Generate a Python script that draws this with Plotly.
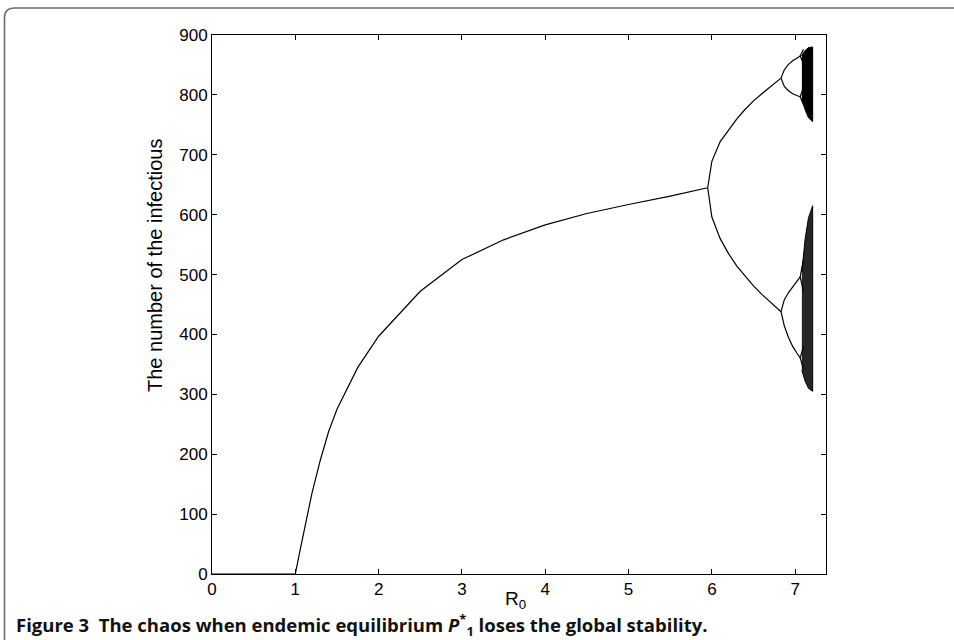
import plotly.graph_objects as go

# ---- data ----
r_eq = [0.0, 0.5, 1.0, 1.05, 1.1, 1.2, 1.3, 1.4, 1.5, 1.75, 2.0, 2.5, 3.0, 3.5, 4.0, 4.5, 5.0, 5.5, 5.95]
i_eq = [0, 0, 0, 35, 70, 135, 190, 238, 275, 345, 397, 472, 525, 558, 583, 602, 617, 631, 645]

r_p2 = [5.95, 6.0, 6.1, 6.2, 6.3, 6.4, 6.5, 6.6, 6.7, 6.83]
p2_up = [645, 689, 722, 742, 760, 776, 790, 802, 814, 828]
p2_low = [645, 596, 560, 535, 514, 497, 481, 467, 454, 438]

r_p4 = [6.83, 6.87, 6.92, 6.97, 7.02, 7.06]
p4_a = [828, 842, 851, 857, 861, 865]
p4_b = [828, 814, 807, 802, 799, 797]
p4_c = [438, 458, 470, 480, 488, 496]
p4_d = [438, 414, 395, 380, 369, 361]

r_p8 = [7.06, 7.08, 7.10]
p8_a1 = [865, 872, 876]
p8_a2 = [865, 858, 852]
p8_b1 = [797, 806, 812]
p8_b2 = [797, 790, 784]
p8_c1 = [496, 512, 525]
p8_c2 = [496, 482, 472]
p8_d1 = [361, 372, 380]
p8_d2 = [361, 350, 342]

r_chaos = [7.08, 7.12, 7.16, 7.21]
up_hi = [866, 874, 879, 880]
up_lo = [792, 775, 762, 755]
low_hi = [505, 560, 595, 615]
low_lo = [340, 322, 310, 305]

x_ticks = [0, 1, 2, 3, 4, 5, 6, 7]
y_ticks = [0, 100, 200, 300, 400, 500, 600, 700, 800, 900]

fig = go.Figure()

line_style = dict(color="black", width=1.2)

def add_line(x, y):
    fig.add_trace(go.Scatter(x=x, y=y, mode="lines", line=line_style,
                             hoverinfo="skip", showlegend=False))

add_line(r_eq, i_eq)
add_line(r_p2, p2_up)
add_line(r_p2, p2_low)
for branch in (p4_a, p4_b, p4_c, p4_d):
    add_line(r_p4, branch)
for branch in (p8_a1, p8_a2, p8_b1, p8_b2, p8_c1, p8_c2, p8_d1, p8_d2):
    add_line(r_p8, branch)

def add_band(hi, lo, color):
    fig.add_trace(go.Scatter(x=r_chaos + r_chaos[::-1], y=hi + lo[::-1],
                             mode="lines", fill="toself", fillcolor=color,
                             line=dict(color="black", width=1),
                             hoverinfo="skip", showlegend=False))

add_band(up_hi, up_lo, "black")
add_band(low_hi, low_lo, "rgba(0,0,0,0.85)")

# figure geometry (pixels)
L, R, T, B = 212, 826, 35, 574
W, H = R - L, B - T

def px(x):
    return (x - L) / W

def py(y):
    return (B - y) / H

FONT = "Liberation Sans, Arial, sans-serif"

axis_common = dict(showline=True, linecolor="black", linewidth=1, mirror="ticks",
                   ticks="inside", ticklen=5, tickcolor="black", showgrid=False,
                   zeroline=False,
                   tickfont=dict(family=FONT, size=17, color="black"))

fig.update_xaxes(range=[0, 7.37], tickvals=x_ticks, ticktext=[str(v) for v in x_ticks],
                 **axis_common)
fig.update_yaxes(range=[0, 900], tickvals=y_ticks, ticktext=[str(v) for v in y_ticks],
                 **axis_common)

# rounded frame around the figure
x0, y0 = px(4.5), py(8)
xr, yb = px(970), py(660)
rx, ry = 10 / W, 10 / H
path = (f"M {x0},{yb} L {x0},{y0 - ry} Q {x0},{y0} {x0 + rx},{y0} L {xr},{y0}")

fig.update_layout(
    width=954, height=640,
    margin=dict(l=L, r=954 - R, t=T, b=640 - B, autoexpand=False),
    paper_bgcolor="white", plot_bgcolor="white",
    shapes=[dict(type="path", path=path, xref="paper", yref="paper",
                 line=dict(color="#6e6e6e", width=1.6), layer="above")],
    annotations=[
        dict(text="The number of the infectious", textangle=-90,
             xref="paper", yref="paper", x=px(155), y=py(266),
             xanchor="center", yanchor="middle", showarrow=False,
             font=dict(family=FONT, size=20, color="black")),
        dict(text="R<sub>0</sub>",
             xref="paper", yref="paper", x=px(515), y=py(600),
             xanchor="center", yanchor="middle", showarrow=False,
             font=dict(family=FONT, size=19, color="black")),
        dict(text="Figure 3  The chaos when endemic equilibrium <i>P</i><sup>*</sup><sub>1</sub> loses the global stability.",
             xref="paper", yref="paper", x=px(14), y=py(625), xanchor="left", yanchor="middle",
             showarrow=False, align="left",
             font=dict(family="Open Sans, Noto Sans, sans-serif", size=18.5, color="#111111", weight="bold")),
    ],
)

fig.write_html("out.html", post_script="document.body.style.margin='0px';",
               config={"displayModeBar": False})
